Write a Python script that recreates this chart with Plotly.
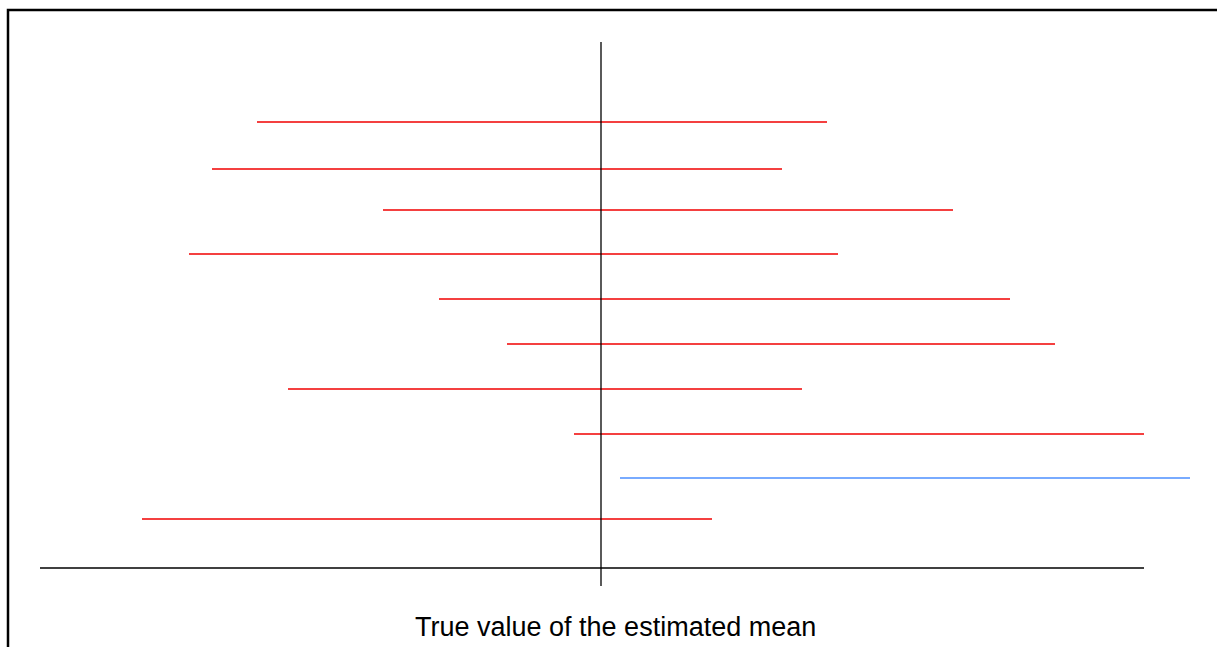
import plotly.graph_objects as go

# Confidence intervals (true mean at 0), one per sample, top to bottom
sample_height = [44.6, 39.9, 35.8, 31.4, 26.9, 22.4, 17.9, 13.4, 9.0, 4.9]
lower = [-3.44, -3.89, -2.18, -4.12, -1.62, -0.94, -3.13, -0.27, 0.19, -4.59]
upper = [2.26, 1.81, 3.52, 2.37, 4.09, 4.54, 2.01, 5.43, 5.89, 1.11]
true_mean = 0.0
axis_x = [-5.61, 5.43]
ref_y = [-1.8, 52.6]
label = "True value of the estimated mean"

RED = "#f00000"
BLUE = "#4d8fff"

fig = go.Figure()
for h, lo, hi in zip(sample_height, lower, upper):
    covers = lo <= true_mean <= hi
    fig.add_trace(go.Scatter(
        x=[lo, hi], y=[h, h], mode="lines",
        line=dict(color=RED if covers else BLUE, width=1.5),
        hoverinfo="skip", showlegend=False))

# horizontal base axis
fig.add_trace(go.Scatter(x=axis_x, y=[0, 0], mode="lines",
                         line=dict(color="#000000", width=1.3),
                         hoverinfo="skip", showlegend=False))
# vertical line at true value
fig.add_trace(go.Scatter(x=[true_mean, true_mean], y=ref_y, mode="lines",
                         line=dict(color="#000000", width=1.3),
                         hoverinfo="skip", showlegend=False))

fig.add_annotation(x=0.14, y=-5.9, text=label, showarrow=False,
                   font=dict(family="Liberation Sans, Arial", size=27, color="black"),
                   xanchor="center", yanchor="middle")

# outer frame
fig.add_shape(type="rect", xref="paper", yref="paper",
              x0=8 / 1217, x1=1.05, y0=-0.05, y1=1 - 10 / 647,
              line=dict(color="black", width=2.5), fillcolor="rgba(0,0,0,0)")

fig.update_layout(
    width=1217, height=647,
    margin=dict(l=0, r=0, t=0, b=0),
    paper_bgcolor="white", plot_bgcolor="white",
    xaxis=dict(range=[-6.01, 6.16], visible=False, fixedrange=True),
    yaxis=dict(range=[-7.9, 56.8], visible=False, fixedrange=True),
    hovermode=False,
)

fig.write_html(
    "out.html",
    config={"displayModeBar": False},
    post_script="document.body.style.margin='0';document.body.style.overflow='hidden';",
)
